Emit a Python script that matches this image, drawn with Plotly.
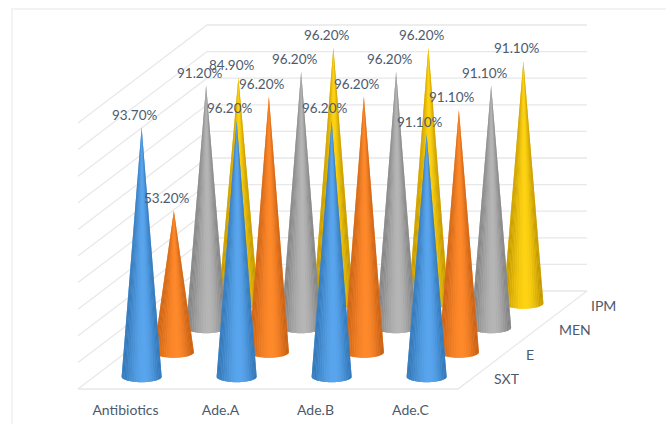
import numpy as np
import plotly.graph_objects as go

# Resistance rates per treatment and antibiotic
categories = ["Antibiotics", "Ade.A", "Ade.B", "Ade.C"]
series_names = ["SXT", "E", "MEN", "IPM"]
sxt = [93.7, 96.2, 96.2, 91.1]
e_vals = [53.2, 96.2, 96.2, 91.1]
men = [91.2, 96.2, 96.2, 91.1]
ipm = [84.9, 96.2, 96.2, 91.1]
series_values = [sxt, e_vals, men, ipm]

# Cone shading: left rim, highlight, right rim
palette = [
    ("#2c6eac", "#5aa6ee", "#2f70ad"),
    ("#bd5a12", "#ff8a2c", "#c25e14"),
    ("#787878", "#b6b6b6", "#7a7a7a"),
    ("#b58a00", "#ffd414", "#ba8e00"),
]

# Oblique projection in chart units (one category wide, one percent tall)
W, H = 666, 424
PX_X, PX_Y = 95.0, 2.66
ORIGIN_X, ORIGIN_Y = 78.0, 389.0
DEPTH_X, DEPTH_Y = 129.0 / PX_X, 98.0 / PX_Y
RADIUS_X, RADIUS_Y = 20.0 / PX_X, 5.5 / PX_Y
FACETS = 24
GRID = "#e8e8e8"
TEXT = "#4d5a6c"
FONT = "Lato"
TOP = 100
STEP = 10


def project(i, depth, v):
    return i + DEPTH_X * depth, v + DEPTH_Y * depth


def hex_rgb(c):
    return np.array([int(c[k:k + 2], 16) for k in (1, 3, 5)], dtype=float)


def shade(colors, t):
    # t runs from left rim (0) to right rim (1); highlight sits a little left of centre
    rim_l, high, rim_r = map(hex_rgb, colors)
    if t < 0.45:
        rgb = rim_l + (high - rim_l) * np.sin(t / 0.45 * np.pi / 2)
    else:
        rgb = high + (rim_r - high) * ((t - 0.45) / 0.55) ** 1.5
    return "rgb(%d,%d,%d)" % tuple(rgb)


fig = go.Figure()


def line(xs, ys):
    fig.add_trace(go.Scatter(x=xs, y=ys, mode="lines", hoverinfo="skip",
                             line=dict(color=GRID, width=1.3)))


def patch(xs, ys, color):
    fig.add_trace(go.Scatter(x=xs, y=ys, mode="none", fill="toself",
                             fillcolor=color, hoverinfo="skip"))


# Walls and floor
for v in range(0, TOP + 1, STEP):
    x0, y0 = project(0, 0, v)
    x1, y1 = project(0, 1, v)
    x2, y2 = project(len(categories), 1, v)
    line([x0, x1, x2], [y0, y1, y2])
line([0, len(categories), project(len(categories), 1, 0)[0]], [0, 0, DEPTH_Y])

# Cones, back row first so nearer ones overlap
for j in reversed(range(len(series_names))):
    depth = (j + 0.5) / len(series_names)
    for i, value in enumerate(series_values[j]):
        cx, cy = project(i + 0.5, depth, 0)
        tip_x, tip_y = project(i + 0.5, depth, value)
        angles = np.linspace(np.pi, 0, FACETS + 1)
        # Solid underlay keeps the seams between shading facets closed
        patch(np.concatenate(([tip_x], cx + RADIUS_X * np.cos(angles), [tip_x])),
              np.concatenate(([tip_y], cy - RADIUS_Y * np.sin(angles), [tip_y])),
              shade(palette[j], 0.45))
        for k in range(FACETS):
            a = angles[k:k + 2]
            t = (1 - np.cos(a.mean())) / 2
            patch(np.concatenate(([tip_x], cx + RADIUS_X * np.cos(a), [tip_x])),
                  np.concatenate(([tip_y], cy - RADIUS_Y * np.sin(a), [tip_y])),
                  shade(palette[j], t))

# Value labels just above each tip
for j in range(len(series_names)):
    depth = (j + 0.5) / len(series_names)
    for i, value in enumerate(series_values[j]):
        tip_x, tip_y = project(i + 0.5, depth, value)
        fig.add_annotation(x=tip_x - 6.5 / PX_X, y=tip_y + 12.5 / PX_Y,
                           text=f"{value:.2f}%", showarrow=False,
                           font=dict(family=FONT, size=13.5, color=TEXT))

# Depth axis names beside the right floor edge
for j, name in enumerate(series_names):
    depth = (j + 0.5) / len(series_names)
    x, y = project(len(categories), depth, 0)
    fig.add_annotation(x=x + 18 / PX_X, y=y - 2 / PX_Y, text=name, showarrow=False,
                       xanchor="left", font=dict(family=FONT, size=14, color=TEXT))

fig.update_layout(
    width=W, height=H, margin=dict(l=0, r=0, t=0, b=0),
    paper_bgcolor="white", plot_bgcolor="white", showlegend=False,
    xaxis=dict(range=[-ORIGIN_X / PX_X, (W - ORIGIN_X) / PX_X],
               tickvals=[i + 0.5 for i in range(len(categories))],
               ticktext=categories, showgrid=False, zeroline=False, showline=False,
               anchor="free", position=(H - ORIGIN_Y - 11) / H,
               tickfont=dict(family=FONT, size=14, color=TEXT)),
    yaxis=dict(range=[(ORIGIN_Y - H) / PX_Y, ORIGIN_Y / PX_Y], visible=False),
    # Pale frame along the left and top edges of the chart area
    shapes=[dict(type="path", xref="paper", yref="paper",
                 path=f"M {12 / W} 0 L {12 / W} {1 - 9 / H} L 1 {1 - 9 / H}",
                 line=dict(color="#efefef", width=1.5))],
)

fig.write_html("out.html", config=dict(displayModeBar=False))
